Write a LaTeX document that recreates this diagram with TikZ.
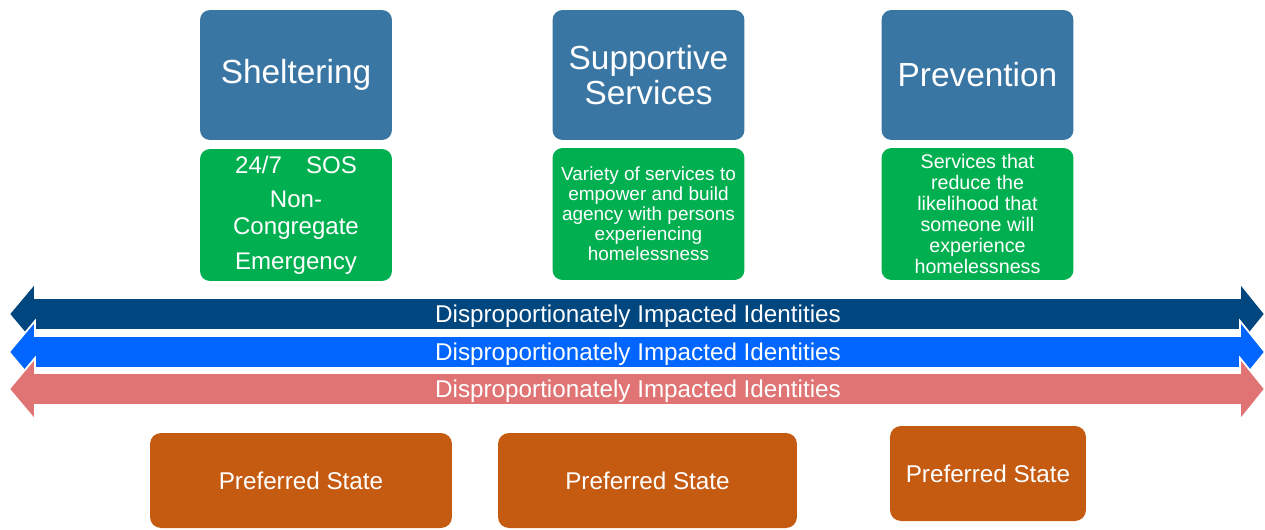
\documentclass[tikz,border=0pt]{standalone}
\usepackage{fontspec}
\setmainfont{Liberation Sans}

\definecolor{serviceblue}{HTML}{3A76A4}
\definecolor{detailgreen}{HTML}{00B050}
\definecolor{statebrown}{HTML}{C55A11}
\definecolor{identitynavy}{HTML}{00467F}
\definecolor{identityblue}{HTML}{0066FF}
\definecolor{identityrose}{HTML}{E07474}

\tikzset{
  every service/.style={fill=serviceblue, rounded corners=0.2cm, text=white,
    align=center, minimum width=3.84cm, minimum height=2.6cm,
    font=\fontsize{19}{20}\selectfont},
  every detail/.style={fill=detailgreen, rounded corners=0.2cm, text=white,
    align=center, minimum width=3.84cm, minimum height=2.64cm, inner sep=1pt},
  every state/.style={fill=statebrown, rounded corners=0.22cm, text=white,
    minimum height=1.9cm, font=\fontsize{13.8}{15}\selectfont},
  every identity/.style={text=white, font=\fontsize{13.8}{15}\selectfont}
}

\begin{document}
\begin{tikzpicture}[x=0.02cm, y=-0.02cm]
\useasboundingbox (0,0) rectangle (1265,529);

% define service boxes
\foreach \m/\l [count=\i] in {296/Sheltering, 648.5/{Supportive\\Services}, 977.5/Prevention}
  \node [every service] (service-\i) at (\m,75) {\l};

% define detail boxes
\node [every detail, font=\fontsize{13.7}{15.3}\selectfont] (detail-1) at (296,215)
  {24/7\hspace{1em}SOS\\[4.5pt] Non-\\ Congregate\\[4.5pt] Emergency};
\node [every detail, font=\fontsize{10.8}{11.4}\selectfont] (detail-2) at (648.5,214)
  {Variety of services to\\ empower and build\\ agency with persons\\ experiencing\\ homelessness};
\node [every detail, font=\fontsize{11.2}{11.9}\selectfont] (detail-3) at (977.5,214)
  {Services that\\ reduce the\\ likelihood that\\ someone will\\ experience\\ homelessness};

% draw identity arrows
\foreach \c/\y [count=\i] in {identitynavy/314, identityblue/352, identityrose/389} {
  \fill [\c, draw=white, line width=1pt]
    (9,\y) -- (35,\y-31) -- (35,\y-16) -- (1240,\y-16) -- (1240,\y-31)
    -- (1265,\y) -- (1240,\y+31) -- (1240,\y+16) -- (35,\y+16) -- (35,\y+31) -- cycle;
  \node [every identity] (identity-\i) at (638,\y+2.5) {Disproportionately Impacted Identities};
}

% define preferred states
\foreach \m/\y/\w [count=\i] in {301/480.5/6.04cm, 647.5/480.5/5.98cm, 988/473.5/3.92cm}
  \node [every state, minimum width=\w] (state-\i) at (\m,\y) {Preferred State};

\end{tikzpicture}
\end{document}
